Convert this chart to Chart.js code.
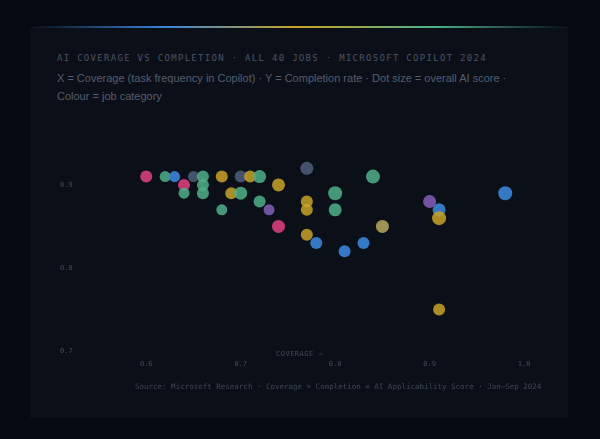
<!DOCTYPE html>
<html>
<head>
<meta charset="utf-8">
<script src="https://cdn.jsdelivr.net/npm/chart.js@4"></script>
<style>
  html, body { margin: 0; padding: 0; background: #050912; width: 600px; height: 439px; overflow: hidden; }
  .card { position: absolute; left: 30px; top: 27px; width: 538px; height: 391px; background: #0b1018; }
  .bar { position: absolute; left: 30px; top: 26px; width: 538px; height: 2px;
    background: linear-gradient(90deg, rgba(58,132,214,0) 0%, #3a84d6 25%, #c9a227 50%, #4fb08a 75%, rgba(79,176,138,0) 100%); }
  .title { position: absolute; left: 57px; top: 53px; font: 9px "DejaVu Sans Mono", monospace; letter-spacing: 1.3px; color: #4a5363; }
  .sub { position: absolute; left: 57px; top: 69px; width: 480px; font: 11px "Liberation Sans", Arial, sans-serif; line-height: 18px; color: #535d6e; }
  .axt { position: absolute; left: 276px; top: 350px; font: 7px "DejaVu Sans Mono", monospace; letter-spacing: 0.5px; color: #414a5a; }
  .src { position: absolute; left: 135px; top: 382px; font: 7.5px "DejaVu Sans Mono", monospace; color: #3c4656; }
  #wrap { position: absolute; left: 40px; top: 150px; width: 520px; height: 250px; }
</style>
</head>
<body>
<div class="card"></div>
<div class="bar"></div>
<div class="title">AI COVERAGE VS COMPLETION · ALL 40 JOBS · MICROSOFT COPILOT 2024</div>
<div class="sub">X = Coverage (task frequency in Copilot) · Y = Completion rate · Dot size = overall AI score · Colour = job category</div>
<div id="wrap"><canvas id="c"></canvas></div>
<div class="axt">COVERAGE →</div>
<div class="src">Source: Microsoft Research · Coverage × Completion = AI Applicability Score · Jan–Sep 2024</div>
<script>
const xTicks = [0.6, 0.7, 0.8, 0.9, 1.0];
const yTicks = [0.7, 0.8, 0.9];

const categoryColors = {
  sales: 'rgba(214,63,122,0.9)',
  admin: 'rgba(79,176,138,0.85)',
  tech: 'rgba(58,132,214,0.9)',
  ops: 'rgba(74,90,120,0.9)',
  finance: 'rgba(201,162,39,0.85)',
  creative: 'rgba(126,91,176,0.9)',
  other: 'rgba(184,168,96,0.85)'
};

// coverage, completion, size, category
const coverage =   [0.60,0.62,0.63,0.65,0.66,0.64,0.66,0.64,0.66,0.68,0.70,0.71,0.72,0.74,0.69,0.70,0.72,0.68,0.73,0.74,0.77,0.77,0.77,0.77,0.78,0.80,0.80,0.81,0.83,0.84,0.85,0.90,0.91,0.91,0.91,0.98];
const completion = [0.91,0.91,0.91,0.91,0.91,0.90,0.90,0.89,0.89,0.91,0.91,0.91,0.91,0.90,0.89,0.89,0.88,0.87,0.87,0.85,0.92,0.88,0.87,0.84,0.83,0.89,0.87,0.82,0.83,0.91,0.85,0.88,0.87,0.86,0.75,0.89];
const dotSize =    [6,5.5,5.5,5.5,6,6,6,5.5,6,6,6,6,6.5,6.5,6,6.5,6,5.5,5.5,6.5,6.5,6,6,6,6,7,6.5,6,6,7,6.5,6.5,6.5,7,6,7];
const category = ['sales','admin','tech','ops','admin','sales','admin','admin','admin','finance','ops','finance','admin','finance','finance','admin','admin','admin','creative','sales','ops','finance','finance','finance','tech','admin','admin','tech','tech','admin','other','creative','tech','finance','finance','tech'];

const points = coverage.map((x, i) => ({ x: x, y: completion[i] }));
const tickFont = { family: 'DejaVu Sans Mono', size: 7 };

new Chart(document.getElementById('c'), {
  type: 'scatter',
  data: {
    datasets: [{
      data: points,
      pointRadius: dotSize,
      pointBackgroundColor: category.map(c => categoryColors[c]),
      pointBorderWidth: 0
    }]
  },
  options: {
    responsive: true,
    maintainAspectRatio: false,
    animation: false,
    layout: { padding: { top: 10, right: 17, bottom: 0, left: 20 } },
    plugins: { legend: { display: false }, tooltip: { enabled: false } },
    scales: {
      x: {
        min: 0.55, max: 1.02,
        afterBuildTicks: s => { s.ticks = xTicks.map(v => ({ value: v })); },
        afterFit: s => { s.height = 49; },
        grid: { display: false }, border: { display: false },
        ticks: { color: '#414a5a', font: tickFont, padding: 1, callback: v => v.toFixed(1) }
      },
      y: {
        min: 0.7, max: 0.93,
        afterBuildTicks: s => { s.ticks = yTicks.map(v => ({ value: v })); },
        afterFit: s => { s.width = 39; },
        grid: { display: false }, border: { display: false },
        ticks: { color: '#414a5a', font: tickFont, crossAlign: 'far', padding: 0, callback: v => v.toFixed(1) }
      }
    }
  }
});
</script>
</body>
</html>
